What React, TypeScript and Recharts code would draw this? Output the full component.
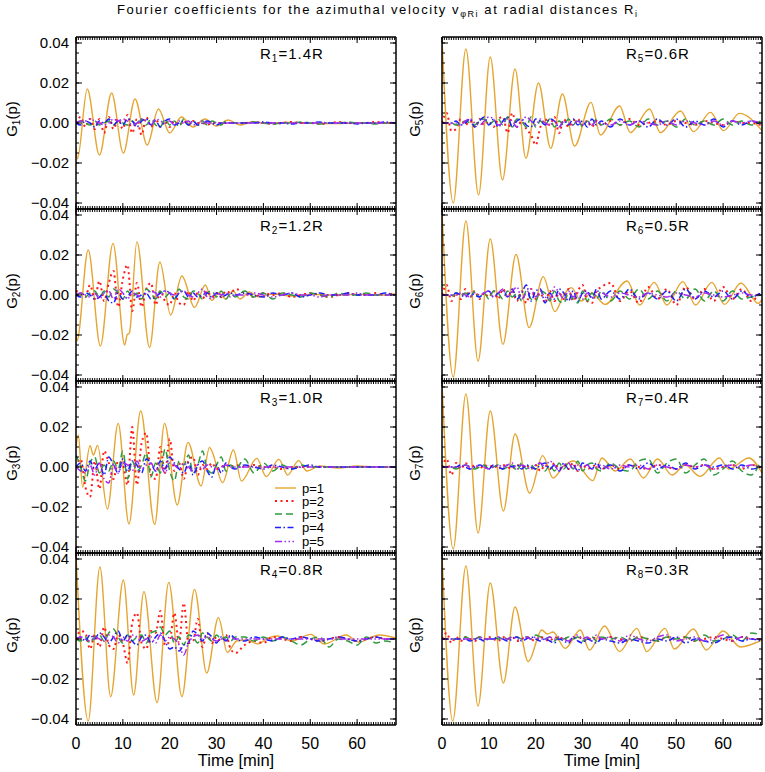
import React from 'react';
import { LineChart, Line, XAxis, YAxis } from 'recharts';

const FONT = '"Liberation Sans", Arial, Helvetica, sans-serif';

// time axis (min) and G axis (units of 1e-3)
const X_DOMAIN: [number, number] = [0, 68.3];
const Y_DOMAIN: [number, number] = [-43, 43];
const X_MAJOR = [0, 10, 20, 30, 40, 50, 60];
const X_MINOR = Array.from({ length: 137 }, (_, i) => i * 0.5);
const Y_MAJOR = [-40, -20, 0, 20, 40];
const Y_MINOR = [-40, -35, -30, -25, -20, -15, -10, -5, 0, 5, 10, 15, 20, 25, 30, 35, 40];

// sample times for the p=2..5 coefficients
const tGrid = [0, 1, 2, 3, 4, 5, 6, 7, 8, 9, 10, 11, 12, 13, 14, 15, 16, 17, 18, 19, 20, 21, 22, 23, 24, 25, 26, 27, 28, 29, 30, 31, 32, 33, 34,
  36, 38, 40, 42, 44, 46, 48, 50, 52, 54, 56, 58, 60, 62, 64, 66, 68];

// ---- R1 = 1.4R
const r1P1Time = [0, 0.3, 2.4, 5.0, 7.6, 10.1, 12.6, 15.2, 17.6, 20.0, 22.5, 25.0, 27.5, 30.0, 32.5, 35.0, 37.5, 40, 45, 50, 55, 60, 65, 68.3];
const r1P1 = [-12, -18, 17, -16, 15, -15, 12, -11, 7, -5, 3, -2, 2, -1.5, 1.5, -1, 0.5, 0, 0.3, 0, -0.3, 0, 0, 0];
const r1P2 = [0, 3, -2, 2, -3, 2, -5, 3, -3, 2, -3, 4, -5, 2, -6, 3, -2, 2, -2, 1, -2, 1, -1, 1, -1, 1, 0, 0, -1, 0, 0, 0, 0, 0, 0,
  0, 0.5, 0, -0.5, 0, 0.5, 0, 0, -0.5, 0, 0.5, 0, 0, 0, 0.5, 0, 0];
const r1P3 = [0, 1, 0, -1, 1, -1, 0, 1, -1, 1, 0, -1, 1, -1, 2, -1, 2, -1, -2, 2, -1, 1, -2, 2, -1, 1, -1, 1, -1, 1, 0, -1, 1, 0, 0,
  0, 0.5, 0, -0.5, 0, 0, 0.5, 0, -0.5, 0, 0, 0.5, 0, 0, -0.5, 0, 0];
const r1P4 = [0, -1, 1, 0, -2, 1, 0, 2, -1, 1, -1, 2, 1, -2, 1, 2, -1, 1, -2, 1, 2, -1, 0, 1, -1, 1, -1, 0, 1, 0, -1, 0, 0, 0, 0,
  0, 0, 0.5, 0, 0, -0.5, 0, 0, 0.5, 0, 0, 0, -0.5, 0, 0, 0.5, 0];
const r1P5 = [0, 1, 1, 2, 1, 0, -1, 0, 2, 1, 2, 1, -1, 0, 2, 1, -1, 2, 1, 0, 1, -1, 1, 0, 1, -1, 0, 1, 0, 0, 0, 0, 0, 0, 0,
  0, 0, 0, 0, 0, 0, 0, 0, 0, 0, 0, 0, 0, 0, 0, 0, 0];

// ---- R2 = 1.2R
const r2P1Time = [0, 0.2, 2.6, 5.2, 7.9, 10.4, 10.9, 11.4, 13.0, 15.7, 17.9, 20.2, 22.6, 25.3, 27.6, 29.0, 30.5, 32, 33.5, 35, 37, 39, 42, 46, 50, 55, 60, 65, 68.3];
const r2P1 = [-18, -23, 22.5, -25.5, 25.8, -25, -20, -19, 26.7, -26.3, 16.5, -10, 9.5, -6.2, 5, -2.7, 1, -2, 2, -2, 1.5, -1, 0.5, -0.5, 0.3, 0, 0.3, 0, 0.5];
const r2P2 = [2, 1, -1, 5, -2, 7, -3, 6, 12, -6, 8, 15, -8, 6, -6, 3, 6, -5, 2, -3, -5, 1, -4, -5, 2, -3, 1, -2, 2, -1, 1, -1, 2, 1, 3,
  1, -1, 1, 0, 1, -1, 0, 1, 0, -1, 0, 1, 0, 0, 1, 0, 1];
const r2P3 = [0, 1, -1, 1, 2, -1, 2, -1, 3, 1, -2, 2, -1, 1, -2, 3, 1, -2, 2, -1, 1, -2, 3, -1, -2, 2, 1, -2, 1, 2, -1, 2, -2, 1, -1,
  2, -1, 1, -2, 1, 0, -1, 1, 0, -1, 1, 0, 0, 1, 0, 0, 1];
const r2P4 = [0, -1, 1, 0, -2, -1, 1, -3, -4, 1, -2, -1, 2, -1, 0, 1, -2, -1, 1, 2, 1, -2, 1, 2, -1, 1, -1, 0, 1, -1, 1, -1, 0, 1, 0,
  1, 0, -1, 1, 0, 1, -1, 0, 1, 0, 0, 1, 0, 0, 0, 1, 0];
const r2P5 = [0, 1, 0, -1, 1, -2, 1, 2, -2, 3, 1, -2, 1, 0, -1, 1, 2, 1, -1, 2, 1, 0, 1, 2, 0, -1, 1, 3, -1, -2, 1, 0, 1, -1, 0,
  0, 1, 0, -1, 0, 1, 0, 0, -1, 0, 0, 0, 1, 0, 0, 0, 0];

// ---- R3 = 1.0R
const r3P1Time = [0, 0.5, 1.4, 3.0, 3.7, 4.6, 6.7, 9.0, 11.3, 13.8, 16.8, 18.9, 21.6, 23.9, 26.7, 28.5, 29.0, 31.3, 33.6, 35.3, 38.6, 40.6, 43.3, 45.2, 47.5, 49.3, 52, 56, 60, 64, 68.3];
const r3P1 = [10, 16, -10, 10.7, 6, 10.8, -21, 21.8, -28.5, 28, -28.7, 21.8, -19, 12.3, -9.5, 9.8, 8, -7.8, 8.5, -7, 4.3, -4.8, 3.8, -4, 3.2, -2, 0.5, -0.5, 0.5, 0, 0];
const r3P2 = [0, 4, -10, -15, 3, -11, 8, 2, -6, 3, 1, -9, 20, -9, 12, 17, -4, -6, 10, -3, 14, -2, 2, -6, 3, 5, -4, 1, -1, 2, -1, 0, 1, 0, 1,
  0, 1, 0, 0, -1, 0, 0, 0, 0, 0, 0, 0, 0, 0, 0, 0, 0];
const r3P3 = [6, 0, -7, 2, 5, -3, 1, -2, 3, -1, 8, -6, 3, -2, 1, 7, -5, 2, -3, 9, -2, -7, 3, 1, 6, -3, 1, 8, -1, -3, 1, 5, -2, 1, -1,
  4, -3, 2, -2, 1, -1, 1, 0, 0, 0, 0, 0, 0, 0, 0, 0, 0];
const r3P4 = [0, 2, -2, 3, -1, 2, -4, 5, 1, -3, 4, -2, 3, 1, -3, 4, 2, -2, 3, -1, 5, 2, -1, -3, 2, -4, 1, 3, -2, -5, 1, -3, 2, 0, -1,
  1, 0, -1, 1, 0, -1, 0, 1, 0, 0, 0, 0, 0, 0, 0, 0, 0];
const r3P5 = [0, -2, -3, 1, -4, 2, -6, -8, 1, -3, 2, 1, -2, 3, -1, 1, 2, -2, 1, -3, 2, 1, -1, 2, 0, -2, 1, -1, 1, 0, -1, 0, 1, 0, 0,
  0, 0, 0, 0, 0, 0, 0, 0, 0, 0, 0, 0, 0, 0, 0, 0, 0];

// ---- R4 = 0.8R
const r4P1Time = [0, 2.6, 5.1, 7.4, 10.1, 12.3, 14.5, 17.3, 19.8, 22.6, 25.3, 27.9, 30.4, 32.3, 34.3, 36.5, 38.8, 41, 43.0, 46, 50.1, 53.0, 57.6, 60.4, 64.7, 68.3];
const r4P1 = [42, -41, 36, -28.8, 29.5, -28, 23.7, -31.8, 28.3, -28.8, 24.8, -17, 10.7, -6.7, -1, -0.5, -2.5, 0.5, 1.5, -1, 2.3, -2.5, 2, -1.5, 2, 0.5];
const r4P2 = [0, 4, 3, -5, 2, -4, 6, -3, -5, 2, -2, -12, 8, 13, -2, -5, 4, 3, 14, -3, -1, 13, -2, 18, -2, -1, 10, -4, 3, -2, 1, -1, 2, -5, -7,
  -3, -1, -2, 1, 0, -1, 1, 0, -1, 0, 1, 0, -1, 0, 1, 0, 0];
const r4P3 = [0, -1, 1, -2, 1, 2, -1, 3, 5, 1, -2, 2, -1, 1, 2, -2, 3, 4, 6, 2, 4, -2, 1, -3, 2, 1, -2, 3, 1, -1, 2, 0, 1, -1, 1,
  1, -1, 1, -1, 1, -1, -3, 0, 1, -4, 0, -1, -3, 1, -2, -1, -2];
const r4P4 = [0, 1, -1, 2, 0, 3, 1, -2, 1, 4, -1, 2, -1, -3, 1, 2, -2, 1, 3, -1, -5, -4, -6, -3, -2, 4, 2, -1, 3, 1, -2, 1, -1, 2, 0,
  -1, 1, 0, -1, 1, 0, 1, 0, -1, 0, 1, 0, -1, 0, 1, 0, 0];
const r4P5 = [0, 1, 0, -1, 1, 0, -1, 2, 1, -2, 1, -1, 2, 1, -1, 0, 1, -2, 2, -1, 1, 0, -3, -8, -2, 1, 2, 0, 1, 0, -1, 0, 0, 1, 0,
  0, 0, 0, 0, 0, 0, 0, 0, 0, 0, 0, 0, 0, 0, 0, 0, 0];

// ---- R5 = 0.6R
const r5P1Time = [0, 2.4, 5.1, 7.8, 10.3, 12.9, 15.6, 17.9, 20.6, 23.2, 25.7, 28.3, 31.8, 33.8, 37.9, 40.2, 44.3, 46.6, 50.9, 53.7, 57.3, 60.1, 63.5, 68.3];
const r5P1 = [42, -40, 37, -36, 33, -28.5, 27, -17.7, 20, -12.7, 14.5, -11.5, 10.3, -6, 8.5, -4.8, 7, -4.8, 6, -4.3, 5.3, -3.8, 4.8, -3.8];
const r5P2 = [0, 5, -4, -3, 2, -1, 1, -2, 2, -1, 1, -2, 2, 3, -5, 5, -2, 1, -3, -6, -11, -2, 2, -1, 3, -5, 2, -2, 1, 2, -1, 1, -2, 1, -1,
  1, -1, 2, -1, 0, 1, -1, 1, 0, -1, 1, 0, -1, 1, 0, 0, -1];
const r5P3 = [0, 0, 0, -1, 0, 1, 0, -1, 1, 2, -1, 1, 2, -1, 3, -2, 2, 1, -2, 3, -2, 1, -1, 2, -2, 1, -1, 2, -1, 2, -2, 1, -1, 2, -1,
  2, -1, 1, -2, 2, -1, 1, -2, 2, -1, 1, -1, 2, -1, 1, -1, 1];
const r5P4 = [0, 0, 0, 1, -1, 0, 2, -2, 1, 3, -1, 2, -2, 1, 3, -2, 1, 2, -1, -2, 2, 1, -1, 2, 1, -2, 1, -1, 2, -1, 1, -2, 2, -1, 1,
  -2, 2, -1, 1, -2, 2, -1, 2, -2, 1, -1, 2, -2, 1, -1, 1, -1];
const r5P5 = [0, 0, 0, 0, -1, 1, 2, 0, -1, 1, 3, 2, -1, 0, 2, 1, -2, 1, 3, 1, -1, 2, 0, -1, 1, -2, 1, 0, -1, 1, -1, 1, -1, 1, 0,
  -1, 1, -1, 1, 0, -1, 1, -1, 1, 0, -1, 1, -1, 1, 0, 1, 0];

// ---- R6 = 0.5R
const r6P1Time = [0, 2.4, 5.1, 7.7, 10.3, 13.0, 15.8, 18.6, 21.6, 24.1, 26, 27.6, 29.7, 32, 34.8, 39.5, 42.2, 45.3, 48, 51.4, 54.1, 57.6, 60.3, 63.8, 67.5, 68.3];
const r6P1 = [42, -41, 37, -33, 28, -24.7, 20.3, -16.3, 9.2, -8.3, 0, 3.7, -3, 1, -4.7, 7, -5, 6.3, -5, 6.7, -5, 6.3, -4.7, 6, -4.2, -2];
const r6P2 = [0, 5, -3, 1, -2, 3, -1, 2, -2, 1, -1, 2, -2, 3, -1, 2, -3, 2, -4, 3, -2, 1, -4, 2, -3, 1, -2, 3, -3, 2, 5, -3, -4, 2, 4,
  6, -3, 2, -4, 4, -2, 3, -5, 4, -2, 3, -3, 4, -2, 3, -3, 2];
const r6P3 = [0, 0, -1, 1, 0, 1, -1, 2, -1, 1, -2, 2, 1, -2, 2, -1, 1, -3, 2, -2, -3, 2, 1, -3, 2, -3, -4, 1, -2, -4, 2, -3, 1, -2, 2,
  -3, 2, -2, 3, -2, 2, -3, 2, -2, 3, -3, 2, -3, 2, -2, -1, 0];
const r6P4 = [0, 0, 0, 1, 0, -1, 1, 0, -1, 1, 2, -1, 1, 2, -1, 3, -2, 1, 5, -3, 2, 3, -4, 1, -2, 3, 1, -3, 2, -3, 1, 2, -2, 3, -2,
  2, -2, 3, -2, 1, -2, 2, -3, 3, -2, 2, -1, 2, -2, 2, -1, 1];
const r6P5 = [0, 0, 0, 0, 1, 0, -1, 1, 0, 1, 2, -1, 1, 3, -1, 2, 4, -2, 1, 3, -1, 2, -1, -2, 4, 1, -2, 2, -1, 1, -2, 1, -1, 0, 1,
  -1, 1, 0, -1, 1, 0, -1, 1, 0, -1, 1, 0, -1, 0, 1, 0, 0];

// ---- R7 = 0.4R
const r7P1Time = [0, 2.4, 5.1, 7.7, 10.3, 13.1, 15.6, 18.7, 21.5, 23.7, 26.0, 28.1, 32.2, 34.1, 37.0, 40.2, 43.0, 46.0, 49.1, 51.9, 55.1, 59.2, 61.2, 65.5, 68.3];
const r7P1 = [42, -41, 36.5, -33, 28, -22, 16.5, -13, 5.7, -5.5, 0.5, 3, -6.8, 4.5, -2, 4, -5.5, 4, -4, 1, -4.7, 4.5, -1, 4.5, -3];
const r7P2 = [0, 4, -4, 2, -1, 2, -1, 1, -1, 1, 0, 1, -1, 1, 0, -1, 1, 0, 1, -1, 1, -2, 1, -1, 2, -1, 1, -1, 2, -2, 1, -1, 0, 1, -1,
  1, -1, 1, 0, -1, 1, 0, -1, 1, 0, 1, -1, 0, 1, -1, 1, 0];
const r7P3 = [0, 0, 0, -1, 0, 1, 0, -1, 0, 1, -1, 0, 1, -1, 0, 1, -2, 2, -1, 1, -1, 2, -2, 1, -2, 2, -1, 2, -1, 3, -2, 1, 2, -1, -2,
  2, -1, -2, 3, 4, -3, 2, 4, -3, 1, 4, -4, -1, 3, -2, -4, 3];
const r7P4 = [0, 0, 0, 0, 1, 0, -1, 0, 1, 0, -1, 1, 0, -1, 1, 0, 1, -1, 1, 0, -1, 1, 2, -1, 1, -2, 2, -1, 1, -2, 2, 1, -1, 2, -1,
  1, -2, 1, -1, 2, -1, 1, -1, 2, -1, 1, 0, 1, -1, 1, -1, 0];
const r7P5 = [0, 0, 0, 0, 0, 1, 0, 0, 1, 0, -1, 0, 1, 0, 1, 2, -1, 1, 0, -1, 1, 2, 0, 3, 1, -2, 1, 2, -1, 1, 0, 1, -1, 0, 1,
  -1, 1, 0, 1, -1, 1, 0, -1, 1, 0, 1, -1, 0, 1, 0, 1, 0];

// ---- R8 = 0.3R
const r8P1Time = [0, 2.3, 5.1, 7.7, 10.3, 13.1, 15.6, 18.4, 21.3, 22.5, 23.7, 26.3, 29.5, 31.5, 34.7, 37.9, 41.6, 43.7, 47.6, 49.6, 53.7, 56.4, 60.0, 63.7, 68.3];
const r8P1 = [42, -41, 36.5, -33.5, 28, -22, 16, -11.3, 4.5, 2.5, 3.5, -4.7, 4.5, -5.5, 6.5, -6.3, 5.3, -6.3, 5.3, -5, 5, -5.5, 4, -4, -0.5];
const r8P2 = [0, 3, -2, 1, -1, 1, 0, -1, 1, 0, 1, 0, -1, 1, 0, 1, -1, 0, 1, 0, -1, 1, 0, -1, 1, 0, 1, -1, 0, 1, 0, -1, 1, 0, 0,
  1, 0, -1, 1, 0, -1, 1, 0, 1, -1, 0, 1, 0, -1, 1, 0, 0];
const r8P3 = [0, 0, 0, 0, 0, 1, 0, 0, 1, 0, 0, 1, 0, 1, 0, 1, 1, 0, 1, 0, 2, 1, 0, 1, -1, 1, 0, 1, 0, 1, -1, 0, 1, -1, 1,
  0, 1, -1, 1, 0, -1, 1, 0, 1, -1, 2, -1, 0, 2, -1, 3, 2];
const r8P4 = [0, 0, 0, 0, 0, 0, -1, 0, 0, -1, 0, 0, 1, 0, -1, 0, 1, -1, 0, 1, 0, -1, 0, -1, -2, 0, -1, -2, 1, -1, -2, 0, -1, -2, 0,
  -1, -2, 0, -1, -2, 0, -1, 1, -2, 0, -1, -2, 0, 1, -1, 0, -1];
const r8P5 = [0, 0, 0, 0, 0, 0, 0, 0, 1, 0, 0, 0, 1, 0, 0, 1, 0, 0, 1, 0, 1, 0, 0, 1, 0, 1, 0, -1, 1, 2, 0, 1, -1, 2, 0,
  1, -1, 2, 0, -1, 1, 2, -1, 0, 1, -1, 0, 2, -1, 1, 0, 0];

const PANELS = [
  { sub: '1', dist: '1.4R', col: 0, row: 0, p1t: r1P1Time, p1: r1P1, rest: [r1P2, r1P3, r1P4, r1P5] },
  { sub: '2', dist: '1.2R', col: 0, row: 1, p1t: r2P1Time, p1: r2P1, rest: [r2P2, r2P3, r2P4, r2P5] },
  { sub: '3', dist: '1.0R', col: 0, row: 2, p1t: r3P1Time, p1: r3P1, rest: [r3P2, r3P3, r3P4, r3P5] },
  { sub: '4', dist: '0.8R', col: 0, row: 3, p1t: r4P1Time, p1: r4P1, rest: [r4P2, r4P3, r4P4, r4P5] },
  { sub: '5', dist: '0.6R', col: 1, row: 0, p1t: r5P1Time, p1: r5P1, rest: [r5P2, r5P3, r5P4, r5P5] },
  { sub: '6', dist: '0.5R', col: 1, row: 1, p1t: r6P1Time, p1: r6P1, rest: [r6P2, r6P3, r6P4, r6P5] },
  { sub: '7', dist: '0.4R', col: 1, row: 2, p1t: r7P1Time, p1: r7P1, rest: [r7P2, r7P3, r7P4, r7P5] },
  { sub: '8', dist: '0.3R', col: 1, row: 3, p1t: r8P1Time, p1: r8P1, rest: [r8P2, r8P3, r8P4, r8P5] },
];

const SERIES = [
  { name: 'p=1', color: '#E5A530', width: 1.4, dash: undefined },
  { name: 'p=2', color: '#FF1A1A', width: 2, dash: '2 3.5' },
  { name: 'p=3', color: '#2F9A3F', width: 1.5, dash: '7 4' },
  { name: 'p=4', color: '#1E1EFF', width: 1.5, dash: '6 2.5 1.5 2.5' },
  { name: 'p=5', color: '#A22BF0', width: 1.5, dash: '7 2.5 1.5 2.5 1.5 2.5 1.5 2.5' },
];

// layout
const ROW_Y = [37, 209, 381, 553];
const COL_X = [76, 442];
const PLOT_W = 320;
const PLOT_H = 172;
const LAB_W = 76;
const PAD = 8;
const XLAB_H = 44;

const AXIS_LINE = { stroke: '#000', strokeWidth: 1.5 };
const TICK_LINE = { stroke: '#000', strokeWidth: 1 };

const fmtY = (v: number) => (v / 1000).toFixed(2).replace('-', '\u2212');

const toPts = (ts: number[], vs: number[]) => ts.map((t, i) => ({ t, v: vs[i] }));

// frame ticks only: the tick line is drawn, the label is empty
const NoLabel = () => <g />;

function frameX(id: string, orientation: 'top' | 'bottom', ticks: number[], size: number, line: boolean) {
  return (
    <XAxis key={id} xAxisId={id} type="number" dataKey="t" domain={X_DOMAIN} allowDataOverflow
      orientation={orientation} mirror height={0.01} ticks={ticks} interval={0} tick={NoLabel}
      tickSize={size} stroke="#000" axisLine={line ? AXIS_LINE : false} tickLine={TICK_LINE} />
  );
}

function frameY(id: string, orientation: 'left' | 'right', ticks: number[], size: number, line: boolean) {
  return (
    <YAxis key={id} yAxisId={id} type="number" domain={Y_DOMAIN} allowDataOverflow
      orientation={orientation} mirror width={0.01} ticks={ticks} interval={0} tick={NoLabel}
      tickSize={size} stroke="#000" axisLine={line ? AXIS_LINE : false} tickLine={TICK_LINE} />
  );
}

function Panel({ p }: { p: typeof PANELS[number] }) {
  const bottomRow = p.row === 3;
  const width = LAB_W + PLOT_W + PAD;
  const height = PAD + PLOT_H + (bottomRow ? XLAB_H : PAD);
  const data = [toPts(p.p1t, p.p1), ...p.rest.map((r) => toPts(tGrid, r))];
  return (
    <div style={{ position: 'absolute', left: COL_X[p.col] - LAB_W, top: ROW_Y[p.row] - PAD }}>
      <LineChart width={width} height={height}
        margin={{ top: PAD, right: PAD, bottom: bottomRow ? 0 : PAD, left: 0 }}>
        <YAxis yAxisId="lab" type="number" domain={Y_DOMAIN} allowDataOverflow width={LAB_W}
          ticks={Y_MAJOR} interval={0} tickSize={0} tickMargin={7} axisLine={false} tickLine={false}
          tick={p.col === 0 ? { fontSize: 15, fill: '#000', fontFamily: FONT } : false}
          tickFormatter={fmtY} />
        {bottomRow && (
          <XAxis xAxisId="lab" type="number" dataKey="t" domain={X_DOMAIN} allowDataOverflow
            height={XLAB_H} ticks={X_MAJOR} interval={0} tickSize={0} tickMargin={13}
            axisLine={false} tickLine={false} tick={{ fontSize: 16, fill: '#000', fontFamily: FONT }} />
        )}
        {frameX('b', 'bottom', X_MAJOR, 6, true)}
        {frameX('bm', 'bottom', X_MINOR, 3, false)}
        {frameX('t', 'top', X_MAJOR, 6, true)}
        {frameX('tm', 'top', X_MINOR, 3, false)}
        {frameY('l', 'left', Y_MAJOR, 6, true)}
        {frameY('lm', 'left', Y_MINOR, 3, false)}
        {frameY('r', 'right', Y_MAJOR, 6, true)}
        {frameY('rm', 'right', Y_MINOR, 3, false)}
        {SERIES.map((s, i) => (
          <Line key={s.name} xAxisId="b" yAxisId="l" data={data[i]} dataKey="v" type="monotone"
            stroke={s.color} strokeWidth={s.width} strokeDasharray={s.dash}
            dot={false} activeDot={false} isAnimationActive={false} />
        ))}
      </LineChart>
    </div>
  );
}

const LEGEND_Y = [488, 501, 514, 527.5, 541.5];

function Overlay() {
  return (
    <svg width={765} height={772} fontFamily={FONT}
      style={{ position: 'absolute', left: 0, top: 0, pointerEvents: 'none' }}>
      <text x={377} y={14} textAnchor="middle" fontSize={13} textLength={520} lengthAdjust="spacing">
        Fourier coefficients for the azimuthal velocity v<tspan fontSize={9} dy={3}>φRi</tspan>
        <tspan dy={-3}> at radial distances R</tspan><tspan fontSize={9} dy={3}>i</tspan>
      </text>
      {PANELS.map((p) => {
        const gx = p.col === 0 ? 17 : 420;
        const gy = ROW_Y[p.row] + 82;
        return (
          <g key={p.sub}>
            <text x={COL_X[p.col] + 184} y={ROW_Y[p.row] + 21.5} fontSize={15} letterSpacing={1}>
              R<tspan fontSize={10} dy={3}>{p.sub}</tspan><tspan dy={-3}>={p.dist}</tspan>
            </text>
            <text x={gx} y={gy} fontSize={15} textAnchor="middle" transform={`rotate(-90 ${gx} ${gy})`}>
              G<tspan fontSize={10} dy={3}>{p.sub}</tspan><tspan dy={-3}>(p)</tspan>
            </text>
          </g>
        );
      })}
      {COL_X.map((x) => (
        <text key={x} x={x + PLOT_W / 2} y={766} textAnchor="middle" fontSize={16.5}>Time [min]</text>
      ))}
      {SERIES.map((s, i) => (
        <g key={s.name}>
          <line x1={275} x2={296} y1={LEGEND_Y[i]} y2={LEGEND_Y[i]} stroke={s.color}
            strokeWidth={s.width} strokeDasharray={s.dash} />
          <text x={302} y={LEGEND_Y[i] + 4.5} fontSize={13}>{s.name}</text>
        </g>
      ))}
    </svg>
  );
}

export default function App() {
  return (
    <div style={{ position: 'absolute', left: 0, top: 0, width: 765, height: 772, background: '#fff' }}>
      {PANELS.map((p) => <Panel key={p.sub} p={p} />)}
      <Overlay />
    </div>
  );
}
